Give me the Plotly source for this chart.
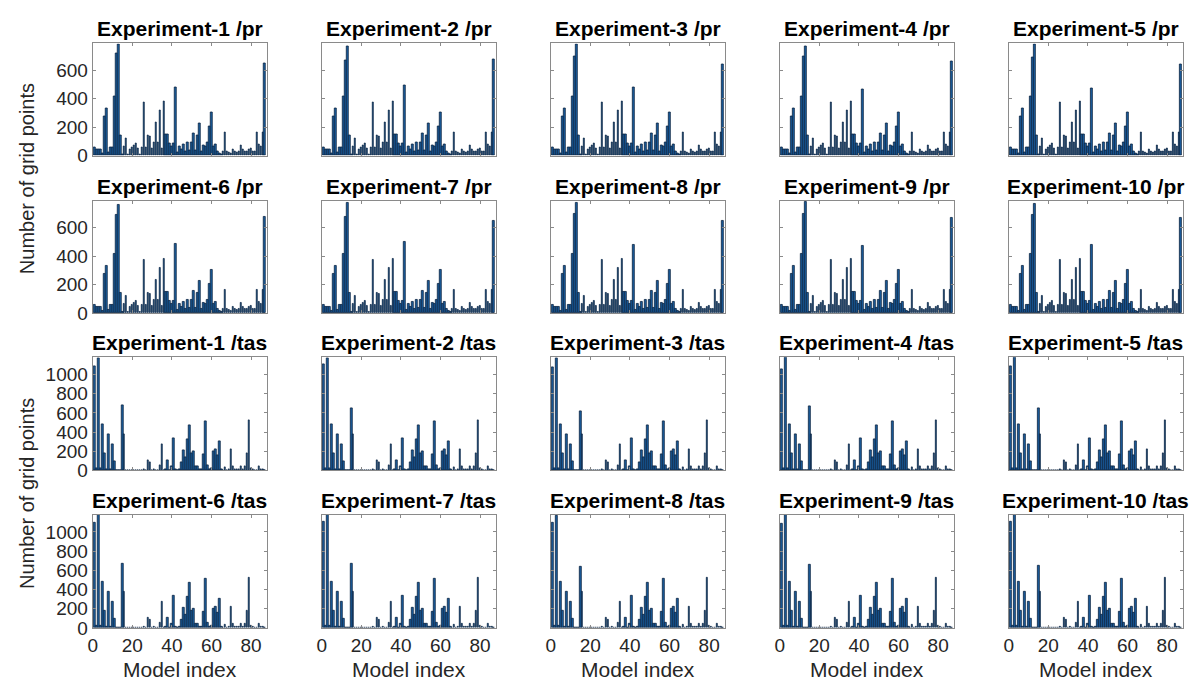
"""
Grid of per-experiment bar charts: number of grid points per model index.
"""

import plotly.graph_objects as go
from plotly.subplots import make_subplots

PAD_X = 8
W, H = 1197 - 2 * PAD_X, 684

EXPERIMENTS = [f"Experiment-{i}" for i in range(1, 11)]
MODEL_INDEX = list(range(1, 88))

# pr: counts per model (Experiment-1)
PR_BASE = [56, 40, 40, 40, 15, 273, 335, 20, 58, 58, 417, 720, 785, 145, 5,
           63, 123, 5, 40, 56, 75, 86, 51, 5, 56, 375, 56, 142, 138, 51,
           96, 231, 96, 319, 51, 382, 147, 147, 86, 63, 86, 482,
           20, 63, 40, 82, 28, 91, 35, 91, 156, 35, 142, 226, 28, 75, 63,
           91, 207, 303, 63, 77, 28, 16, 5, 28, 165, 28, 23, 16, 40, 28,
           23, 28, 75, 40, 26, 26, 40, 51, 30, 28, 165, 82, 68, 165, 650]

# tas: counts per model (Experiment-1)
TAS_BASE = [1088, 24, 1166, 24, 484, 184, 7, 382, 17, 269, 92, 0, 0, 0, 679,
            382, 0, 0, 0, 0, 0, 0, 0, 0, 0, 7, 0, 102, 82, 0, 7, 0, 0, 51,
            269, 0, 17, 109, 0, 44, 338, 7, 0, 17, 85, 211, 136, 330, 467,
            184, 201, 48, 48, 7, 7, 170, 508, 58, 7, 27, 201, 218, 153, 303,
            17, 3, 31, 3, 7, 225, 41, 10, 7, 7, 48, 7, 48, 177, 522, 24, 7,
            3, 3, 48, 7, 17, 0]

# per-experiment readings of the bars that visibly differ
PR_PEAK = [785, 770, 780, 770, 780, 760, 775, 775, 780, 770]      # model 13
PR_SECOND = [720, 672, 700, 700, 690, 690, 680, 700, 700, 690]    # model 12
PR_MID = [482, 497, 480, 465, 470, 490, 500, 480, 470, 480]       # model 42
PR_LAST = [650, 680, 640, 660, 640, 680, 650, 650, 670, 670]      # model 87
TAS_FIRST = [1088, 1105, 1080, 1060, 1090, 1100, 1110, 1100, 1090, 1110]
TAS_PEAK = [1166, 1170, 1170, 1175, 1175, 1175, 1175, 1170, 1175, 1175]
TAS_MID = [679, 650, 620, 670, 650, 670, 670, 640, 660, 650]      # model 15

PR_RANGE = [0, 790]
TAS_RANGE = [0, 1180]

# panel boxes in page pixels
COL_PX = [(88, 263), (318, 493), (548, 723), (778, 953), (1008, 1183)]
ROW_PX = [(36, 150), (196, 310), (355, 470), (515, 630)]

BAR_FILL = "#1b5fa0"
BAR_EDGE = "#0b2340"
AXIS_GRAY = "#8a8a8a"
TEXT = "#262626"
FONT = "Liberation Sans, Arial, sans-serif"


def fx(px):
    return (px - PAD_X) / W


def fy(py):
    return 1 - py / H


def series_for(var, k):
    if var == "pr":
        vals = list(PR_BASE)
        vals[12] = PR_PEAK[k]
        vals[11] = PR_SECOND[k]
        vals[41] = PR_MID[k]
        vals[-1] = PR_LAST[k]
    else:
        vals = list(TAS_BASE)
        vals[0] = TAS_FIRST[k]
        vals[2] = TAS_PEAK[k]
        vals[14] = TAS_MID[k]
    return vals


fig = make_subplots(rows=4, cols=5)
annotations = []

for r in range(4):
    var = "pr" if r < 2 else "tas"
    for c in range(5):
        k = (r % 2) * 5 + c
        fig.add_trace(go.Bar(
            x=MODEL_INDEX,
            y=series_for(var, k),
            width=0.8,
            marker=dict(color=BAR_FILL, line=dict(color=BAR_EDGE, width=0.8)),
            showlegend=False,
        ), row=r + 1, col=c + 1)

        n = r * 5 + c + 1
        xa = "xaxis" if n == 1 else f"xaxis{n}"
        ya = "yaxis" if n == 1 else f"yaxis{n}"
        x0, x1 = COL_PX[c]
        y0, y1 = ROW_PX[r]
        fig.layout[xa].update(
            domain=[fx(x0), fx(x1)],
            range=[0, 88],
            tickvals=[0, 20, 40, 60, 80],
            showticklabels=(r == 3),
            ticks="inside", ticklen=3, tickcolor=AXIS_GRAY,
            showline=True, linecolor=AXIS_GRAY, linewidth=1, mirror="ticks",
            showgrid=False, zeroline=False,
            tickfont=dict(size=19, color=TEXT, family=FONT),
        )
        fig.layout[ya].update(
            domain=[fy(y1), fy(y0)],
            range=PR_RANGE if var == "pr" else TAS_RANGE,
            tickvals=[0, 200, 400, 600] if var == "pr" else [0, 200, 400, 600, 800, 1000],
            showticklabels=(c == 0),
            ticks="inside", ticklen=3, tickcolor=AXIS_GRAY,
            showline=True, linecolor=AXIS_GRAY, linewidth=1, mirror="ticks",
            showgrid=False, zeroline=False,
            tickfont=dict(size=19, color=TEXT, family=FONT),
        )

        annotations.append(dict(
            text=f"<b>{EXPERIMENTS[k]} /{var}</b>",
            x=fx((x0 + x1) / 2), y=fy(y0 - 1),
            xref="paper", yref="paper", xanchor="center", yanchor="bottom",
            showarrow=False, font=dict(size=21, color="black", family=FONT),
        ))
        if r == 3:
            annotations.append(dict(
                text="Model index",
                x=fx((x0 + x1) / 2), y=fy(672),
                xref="paper", yref="paper", xanchor="center", yanchor="middle",
                showarrow=False, font=dict(size=21, color=TEXT, family=FONT),
            ))

for yc in (173, 493):
    annotations.append(dict(
        text="Number of grid points",
        x=fx(22), y=fy(yc),
        xref="paper", yref="paper", xanchor="center", yanchor="middle",
        textangle=-90, showarrow=False,
        font=dict(size=20, color=TEXT, family=FONT),
    ))

fig.update_layout(
    width=W, height=H,
    margin=dict(l=0, r=0, t=0, b=0),
    paper_bgcolor="white",
    plot_bgcolor="white",
    bargap=0,
    annotations=annotations,
    font=dict(family=FONT, color=TEXT),
)

fig.write_html("out.html")
